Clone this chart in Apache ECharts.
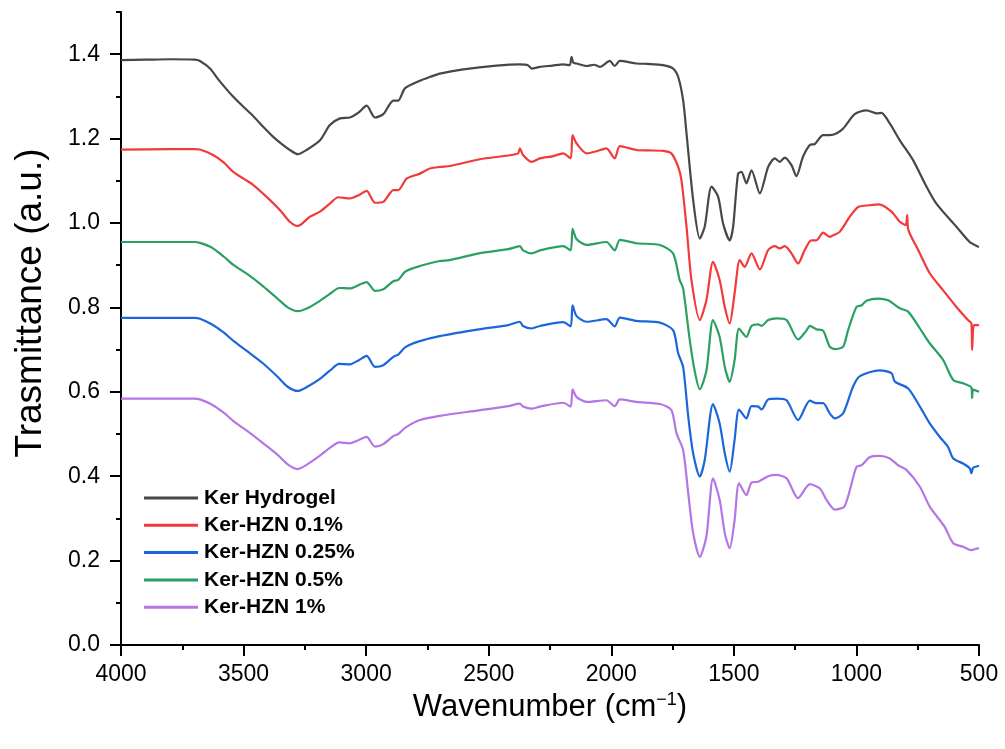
<!DOCTYPE html>
<html>
<head>
<meta charset="utf-8">
<script src="https://cdn.jsdelivr.net/npm/echarts@6/dist/echarts.min.js"></script>
<style>
  html, body { margin: 0; padding: 0; background: #fff; }
  #chart { width: 1005px; height: 749px; }
</style>
</head>
<body>
<div id="chart"></div>
<script>
// FTIR spectra: wavenumber (cm-1) and transmittance (a.u.) for each sample
const seriesNames = ['Ker Hydrogel', 'Ker-HZN 0.1%', 'Ker-HZN 0.25%', 'Ker-HZN 0.5%', 'Ker-HZN 1%'];
const seriesColors = ['#474747', '#f23a3a', '#1c66dc', '#2aa162', '#b377e5'];

const hydrogelWn = [4000,3900,3800,3700,3678,3637,3600,3542,3500,3460,3420,3379,3340,3311,3279,3243,3188,3148,3107,3066,3030,2998,2964,2930,2889,2869,2842,2781,2740,2699,2604,2468,2373,2340,2325,2291,2240,2196,2170,2162,2155,2142,2101,2070,2047,2006,1986,1965,1897,1850,1789,1748,1727,1707,1693,1666,1639,1619,1591,1564,1544,1517,1503,1483,1469,1449,1428,1394,1360,1333,1313,1292,1265,1245,1218,1190,1170,1136,1109,1082,1054,1007,959,918,898,864,823,769,714,674,592,538,504,500];
const hydrogelT = [1.386,1.387,1.388,1.387,1.384,1.366,1.338,1.299,1.275,1.253,1.228,1.204,1.185,1.173,1.163,1.173,1.196,1.232,1.248,1.250,1.262,1.278,1.250,1.258,1.290,1.290,1.319,1.337,1.346,1.354,1.364,1.373,1.376,1.374,1.366,1.370,1.373,1.376,1.374,1.394,1.380,1.378,1.372,1.375,1.370,1.384,1.372,1.384,1.378,1.377,1.374,1.366,1.346,1.291,1.212,1.054,0.963,0.991,1.086,1.062,0.999,0.959,0.991,1.117,1.121,1.094,1.125,1.070,1.133,1.153,1.145,1.155,1.137,1.111,1.157,1.185,1.187,1.208,1.208,1.212,1.224,1.258,1.267,1.260,1.261,1.236,1.196,1.149,1.086,1.046,0.991,0.955,0.944,0.943];

const hzn01Wn = [4000,3800,3700,3678,3624,3580,3542,3500,3460,3406,3352,3311,3279,3229,3188,3148,3114,3066,3030,2998,2964,2930,2889,2869,2835,2781,2740,2699,2658,2536,2420,2380,2373,2360,2325,2291,2240,2196,2166,2158,2142,2101,2060,2020,1986,1965,1897,1850,1789,1755,1727,1714,1693,1673,1639,1612,1585,1558,1537,1517,1497,1476,1456,1428,1394,1360,1333,1313,1292,1265,1238,1211,1184,1163,1136,1109,1095,1068,1027,993,946,908,857,823,799,793,788,748,701,647,592,545,531,528,521,504,500];
const hzn01T = [1.174,1.175,1.175,1.174,1.161,1.143,1.121,1.105,1.090,1.062,1.031,1.003,0.993,1.015,1.027,1.046,1.061,1.058,1.066,1.076,1.048,1.050,1.078,1.078,1.105,1.117,1.129,1.133,1.135,1.151,1.160,1.165,1.177,1.161,1.145,1.153,1.158,1.165,1.153,1.208,1.189,1.165,1.170,1.177,1.153,1.182,1.173,1.172,1.171,1.165,1.133,1.102,0.991,0.865,0.770,0.817,0.908,0.865,0.801,0.762,0.833,0.912,0.896,0.928,0.890,0.936,0.945,0.940,0.945,0.928,0.904,0.936,0.959,0.959,0.977,0.967,0.971,0.979,1.015,1.038,1.042,1.044,1.027,1.003,0.995,1.019,0.983,0.936,0.881,0.841,0.801,0.770,0.762,0.699,0.758,0.758,0.757];

const hzn025Wn = [4000,3700,3678,3630,3580,3540,3480,3420,3360,3320,3279,3240,3190,3148,3110,3066,3030,2998,2964,2930,2889,2869,2840,2781,2700,2540,2420,2373,2360,2325,2291,2196,2166,2158,2142,2101,2020,1986,1965,1897,1802,1748,1727,1707,1686,1666,1639,1619,1585,1558,1537,1517,1497,1479,1449,1428,1401,1387,1360,1326,1285,1238,1190,1163,1136,1109,1088,1054,1014,986,905,857,843,789,741,701,660,626,605,565,538,531,524,504,500];
const hzn025T = [0.775,0.775,0.773,0.760,0.740,0.720,0.694,0.667,0.635,0.612,0.602,0.612,0.630,0.650,0.666,0.665,0.675,0.685,0.659,0.663,0.683,0.688,0.706,0.720,0.732,0.748,0.758,0.766,0.756,0.750,0.756,0.765,0.755,0.805,0.780,0.766,0.772,0.755,0.776,0.768,0.764,0.746,0.691,0.659,0.541,0.454,0.399,0.438,0.571,0.525,0.454,0.411,0.486,0.558,0.537,0.566,0.565,0.558,0.582,0.584,0.580,0.533,0.579,0.573,0.573,0.549,0.537,0.549,0.612,0.637,0.651,0.644,0.624,0.608,0.565,0.525,0.493,0.469,0.442,0.430,0.419,0.407,0.420,0.424,0.425];

const hzn05Wn = [4000,3700,3678,3630,3580,3540,3480,3420,3360,3320,3279,3240,3190,3148,3110,3066,3030,2998,2964,2930,2889,2869,2840,2781,2700,2660,2540,2420,2373,2360,2325,2291,2196,2166,2158,2142,2101,2020,1986,1965,1897,1802,1748,1721,1707,1680,1660,1639,1612,1585,1558,1537,1517,1497,1479,1449,1428,1401,1387,1360,1326,1285,1238,1204,1190,1163,1136,1109,1088,1054,1034,1000,979,959,912,871,823,789,741,701,646,605,565,531,528,524,500];
const hzn05T = [0.955,0.955,0.953,0.942,0.920,0.900,0.877,0.850,0.820,0.800,0.791,0.798,0.815,0.832,0.846,0.845,0.853,0.860,0.839,0.843,0.862,0.865,0.885,0.898,0.910,0.912,0.928,0.938,0.945,0.935,0.928,0.935,0.945,0.935,0.986,0.962,0.948,0.955,0.935,0.960,0.952,0.948,0.928,0.865,0.845,0.723,0.650,0.606,0.650,0.770,0.730,0.659,0.624,0.675,0.750,0.730,0.756,0.760,0.756,0.770,0.774,0.770,0.724,0.745,0.756,0.748,0.745,0.707,0.701,0.707,0.746,0.801,0.805,0.816,0.821,0.817,0.798,0.790,0.750,0.715,0.675,0.628,0.620,0.610,0.585,0.605,0.600];

const hzn1Wn = [4000,3700,3678,3630,3580,3540,3480,3420,3360,3320,3279,3240,3190,3148,3110,3066,3030,2998,2964,2930,2889,2869,2840,2781,2700,2540,2420,2373,2360,2325,2291,2196,2166,2158,2142,2101,2020,1986,1965,1897,1802,1755,1734,1707,1686,1666,1639,1612,1585,1558,1537,1517,1497,1479,1449,1428,1401,1360,1326,1285,1238,1190,1149,1122,1088,1048,1000,979,946,905,864,830,796,741,701,640,605,565,531,504,500];
const hzn1T = [0.584,0.584,0.582,0.570,0.550,0.530,0.505,0.478,0.450,0.428,0.417,0.428,0.448,0.467,0.480,0.478,0.486,0.493,0.470,0.476,0.495,0.500,0.515,0.533,0.543,0.556,0.566,0.572,0.565,0.560,0.565,0.574,0.565,0.606,0.588,0.576,0.580,0.566,0.582,0.576,0.571,0.557,0.502,0.462,0.359,0.265,0.209,0.257,0.395,0.344,0.265,0.229,0.296,0.383,0.355,0.385,0.387,0.400,0.403,0.395,0.348,0.381,0.371,0.344,0.321,0.329,0.422,0.426,0.445,0.448,0.442,0.426,0.415,0.375,0.328,0.280,0.241,0.233,0.225,0.229,0.229];

const spectraWn = [hydrogelWn, hzn01Wn, hzn025Wn, hzn05Wn, hzn1Wn];
const spectraT = [hydrogelT, hzn01T, hzn025T, hzn05T, hzn1T];

// Axis ticks
const yTicks = [0.0, 0.2, 0.4, 0.6, 0.8, 1.0, 1.2, 1.4];
const yMinorTicks = [0.1, 0.3, 0.5, 0.7, 0.9, 1.1, 1.3, 1.5];

const FONT = 'Arial, "Liberation Sans", sans-serif';

const chart = echarts.init(document.getElementById('chart'), null, { renderer: 'canvas' });

const series = seriesNames.map((name, i) => ({
  name: name,
  type: 'line',
  data: spectraWn[i].map((w, k) => [w, spectraT[i][k]]),
  showSymbol: false,
  symbol: 'none',
  smooth: 0.25,
  lineStyle: { width: 2.2, color: seriesColors[i] },
  itemStyle: { color: seriesColors[i] },
  animation: false,
  z: 10 - i
}));

chart.setOption({
  animation: false,
  backgroundColor: '#ffffff',
  grid: { left: 121, right: 26, top: 12, bottom: 104, containLabel: false },
  legend: {
    orient: 'vertical',
    left: 144,
    top: 487,
    padding: 0,
    itemWidth: 54,
    itemHeight: 3,
    itemGap: 5.3,
    icon: 'rect',
    data: seriesNames,
    textStyle: { fontFamily: FONT, fontSize: 21, fontWeight: 'bold', color: '#000', lineHeight: 22, padding: [0, 0, 0, 1] }
  },
  xAxis: {
    type: 'value',
    min: 500,
    max: 4000,
    interval: 500,
    inverse: true,
    name: '{a|Wavenumber (cm}{s|−1}{a|)}',
    nameLocation: 'middle',
    nameGap: 36,
    nameTextStyle: {
      rich: {
        a: { fontFamily: FONT, fontSize: 31, color: '#000' },
        s: { fontFamily: FONT, fontSize: 18, color: '#000', verticalAlign: 'top', padding: [0, 0, 16, 0] }
      }
    },
    axisLine: { show: true, onZero: false, lineStyle: { color: '#000', width: 2 } },
    axisTick: { show: true, inside: false, length: 11, lineStyle: { color: '#000', width: 2 } },
    minorTick: { show: true, splitNumber: 2, length: 5, lineStyle: { color: '#000', width: 2 } },
    axisLabel: { fontFamily: FONT, fontSize: 23, color: '#000', margin: 18, formatter: v => String(v) },
    splitLine: { show: false },
    minorSplitLine: { show: false }
  },
  yAxis: [{
    type: 'value',
    min: 0,
    max: 1.5,
    interval: 0.2,
    axisLine: { show: true, onZero: false, lineStyle: { color: '#000', width: 2 } },
    axisTick: { show: true, inside: false, length: 11, customValues: yTicks, lineStyle: { color: '#000', width: 2 } },
    axisLabel: {
      fontFamily: FONT, fontSize: 23, color: '#000', margin: 21,
      customValues: yTicks,
      formatter: v => v.toFixed(1)
    },
    splitLine: { show: false }
  }, {
    // minor ticks drawn on an overlaid axis
    type: 'value',
    position: 'left',
    min: 0,
    max: 1.5,
    interval: 0.2,
    axisLine: { show: false },
    axisTick: { show: true, inside: false, length: 5, customValues: yMinorTicks, lineStyle: { color: '#000', width: 2 } },
    axisLabel: { show: false },
    splitLine: { show: false }
  }],
  graphic: [{
    type: 'text',
    x: 31,
    y: 303,
    rotation: Math.PI / 2,
    style: {
      text: 'Trasmittance (a.u.)',
      font: '37px ' + FONT,
      fill: '#000',
      align: 'center',
      verticalAlign: 'middle'
    }
  }],
  series: series
});
</script>
</body>
</html>
